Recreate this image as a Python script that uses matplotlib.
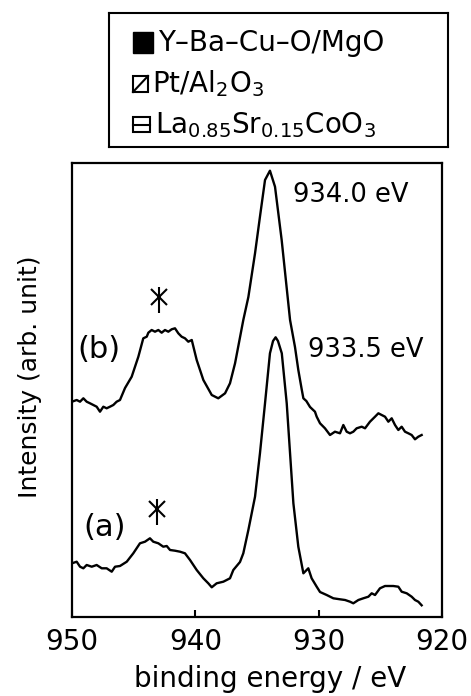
import numpy as np
import matplotlib
matplotlib.use("Agg")
import matplotlib.pyplot as plt
from matplotlib.patches import Rectangle

# spectrum (b): binding energy (eV) and intensity (arb.)
energy_b = [950.0, 949.62, 949.35, 949.08, 948.81, 948.54, 948.27, 948.0, 947.73, 947.46,
            947.19, 946.92, 946.65, 946.38, 946.11, 945.70, 945.16, 944.62, 944.22, 943.94,
            943.81, 943.54, 943.27, 943.0, 942.73, 942.46, 942.19, 941.92, 941.65, 941.38,
            941.11, 940.84, 940.57, 940.29, 939.89, 939.35, 938.67, 938.14, 937.59, 937.19,
            936.78, 936.11, 935.70, 935.16, 934.76, 934.35, 933.95, 933.54, 933.0, 932.32,
            931.92, 931.65, 931.38, 931.24, 931.0, 930.70, 930.30, 930.16, 929.89, 929.49,
            929.08, 928.68, 928.27, 928.0, 927.73, 927.46, 927.19, 926.92, 926.51, 926.24,
            925.84, 925.43, 925.16, 924.89, 924.62, 924.35, 924.08, 923.81, 923.54, 923.27,
            923.0, 922.73, 922.46, 922.19, 921.92, 921.65]
intens_b = [215.3, 217.0, 215.3, 218.7, 215.3, 213.7, 212.0, 210.3, 205.3, 210.3,
            208.7, 210.3, 212.0, 215.3, 217.0, 229.0, 240.3, 260.3, 278.7, 280.3,
            284.3, 287.0, 285.3, 287.0, 284.3, 287.0, 285.3, 287.7, 288.7, 283.7,
            280.3, 278.7, 275.3, 277.0, 257.0, 237.0, 222.0, 218.7, 223.7, 233.7,
            253.7, 297.0, 320.0, 363.7, 400.3, 437.0, 446.3, 430.3, 377.0, 297.0,
            270.0, 247.0, 228.0, 218.7, 216.0, 210.0, 205.3, 200.3, 193.7, 188.7,
            182.0, 185.3, 183.7, 192.0, 185.3, 183.7, 185.3, 188.7, 190.3, 188.7,
            195.3, 200.3, 203.7, 202.0, 200.3, 195.3, 198.7, 192.0, 187.0, 190.3,
            185.3, 183.7, 182.0, 177.7, 180.3, 182.0]

# spectrum (a)
energy_a = [950.0, 949.62, 949.35, 949.08, 948.81, 948.40, 948.0, 947.59, 947.19, 946.78,
            946.51, 946.11, 945.56, 945.03, 944.49, 944.08, 943.68, 943.41, 943.0, 942.60,
            942.32, 942.05, 941.65, 941.24, 940.84, 940.43, 939.89, 939.35, 938.95, 938.67,
            938.27, 937.73, 937.19, 936.92, 936.38, 936.11, 935.70, 935.16, 934.76, 934.35,
            933.95, 933.70, 933.49, 933.30, 932.99, 932.59, 932.32, 932.05, 931.65, 931.24,
            930.84, 930.57, 930.16, 929.89, 929.35, 928.81, 928.27, 927.86, 927.46, 927.19,
            926.78, 926.38, 925.97, 925.70, 925.43, 925.03, 924.62, 923.95, 923.54, 923.27,
            922.86, 922.46, 922.19, 921.92, 921.65]
intens_a = [53.7, 55.3, 50.3, 48.7, 52.0, 50.3, 52.0, 48.7, 48.7, 45.3,
            50.3, 51.0, 55.3, 63.7, 73.7, 75.3, 78.7, 75.3, 73.7, 70.3,
            71.0, 67.0, 66.3, 65.3, 63.7, 57.0, 47.0, 38.7, 33.7, 29.7,
            33.7, 35.3, 38.7, 47.0, 55.0, 63.7, 87.0, 120.3, 163.7, 213.7,
            263.7, 276.0, 279.7, 276.0, 263.7, 213.7, 163.7, 113.7, 70.3, 43.7,
            48.7, 38.7, 30.3, 25.0, 22.0, 18.7, 17.7, 17.0, 15.3, 13.7,
            17.0, 18.7, 20.3, 23.7, 22.0, 28.7, 31.0, 31.0, 30.3, 25.3,
            23.7, 20.3, 17.0, 15.3, 11.7]

x_ticks = [950, 940, 930, 920]
peak_labels = ["934.0 eV", "933.5 eV"]
peak_label_pos = [(932.08, 422), (930.86, 267)]
curve_labels = ["(b)", "(a)"]
curve_label_pos = [(949.6, 267), (949.1, 90)]
star_pos = [(942.92, 320), (943.13, 108)]
legend_labels = ["Y\u2013Ba\u2013Cu\u2013O/MgO", "Pt/Al$_2$O$_3$",
                 "La$_{0.85}$Sr$_{0.15}$CoO$_3$"]

W, H = 471, 696
fig = plt.figure(figsize=(W / 100, H / 100), dpi=100)

# main spectrum axes
ax = fig.add_axes([72 / W, 1 - 617 / H, 370 / W, 454 / H])
ax.plot(energy_b, intens_b, color="black", lw=1.7)
ax.plot(energy_a, intens_a, color="black", lw=1.7)
ax.set_xlim(950, 920)
ax.set_ylim(0, 454)
ax.set_xticks(x_ticks)
ax.set_yticks([])
ax.tick_params(axis="x", direction="in", length=5, width=1.5, labelsize=20, pad=8)
for s in ax.spines.values():
    s.set_linewidth(1.6)
ax.set_xlabel("binding energy / eV", fontsize=20)
ax.xaxis.set_label_coords(0.535, -0.105)
ax.set_ylabel("Intensity (arb. unit)", fontsize=18)
ax.yaxis.set_label_coords(-0.08, 0.53)

for txt, (x, y) in zip(peak_labels, peak_label_pos):
    ax.text(x, y, txt, fontsize=18.5, ha="left", va="center")
for txt, (x, y) in zip(curve_labels, curve_label_pos):
    ax.text(x, y, txt, fontsize=22, ha="left", va="center")
for x, y in star_pos:
    ax.plot([x], [y], marker="x", ms=12, mew=1.5, color="black")
    ax.plot([x], [y - 3], marker="|", ms=19, mew=1.5, color="black")

# legend box
lg = fig.add_axes([109 / W, 1 - 147 / H, 339 / W, 134 / H])
lg.set_xlim(0, 339)
lg.set_ylim(134, 0)
lg.set_xticks([])
lg.set_yticks([])
for s in lg.spines.values():
    s.set_linewidth(1.5)

lg.add_patch(Rectangle((24, 19), 20, 21, facecolor="black", edgecolor="black"))
lg.add_patch(Rectangle((24, 63), 15, 16, facecolor="white", edgecolor="black", lw=1.5))
lg.plot([24, 39], [79, 63], color="black", lw=1.5)
lg.add_patch(Rectangle((24, 104), 17, 15, facecolor="white", edgecolor="black", lw=1.5))
lg.plot([24, 41], [111.5, 111.5], color="black", lw=1.5)

lg.text(49, 30, legend_labels[0], fontsize=20, ha="left", va="center")
lg.text(43, 71, legend_labels[1], fontsize=20, ha="left", va="center")
lg.text(46, 112, legend_labels[2], fontsize=20, ha="left", va="center")

fig.savefig("out.png", dpi=100)
